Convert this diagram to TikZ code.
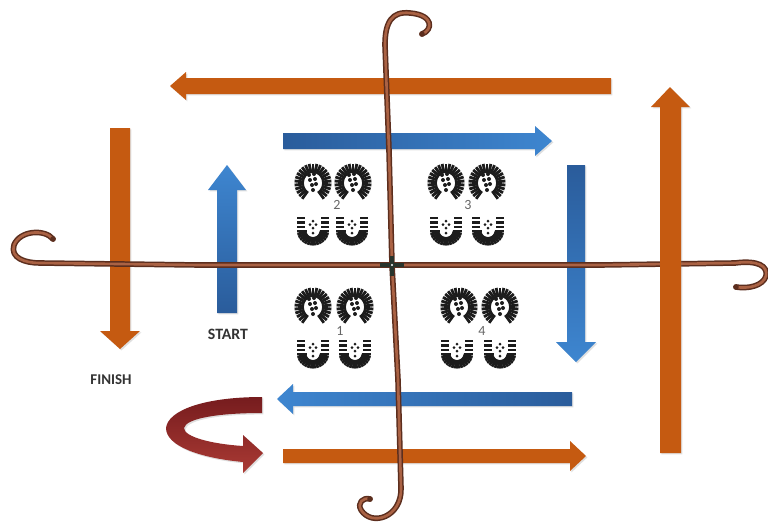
\documentclass[tikz,border=0pt]{standalone}
\usepackage{fontspec}
\setmainfont{Carlito}
\usetikzlibrary{shadows}

\definecolor{arrorange}{RGB}{197,90,17}
\definecolor{bluedark}{RGB}{42,92,155}
\definecolor{bluelight}{RGB}{62,134,208}
\definecolor{ribbondark}{RGB}{118,28,30}
\definecolor{ribbonlight}{RGB}{170,58,52}
\definecolor{canedark}{RGB}{92,46,30}
\definecolor{canelight}{RGB}{170,98,68}
\definecolor{knot}{RGB}{40,52,44}
\definecolor{solecol}{RGB}{28,28,28}

\tikzset{
  forefoot/.pic={
    \foreach \a in {126,138,...,414}
      \draw[sole] ({9*cos(\a)},{10*sin(\a)}) -- ({18.5*cos(\a)},{19.5*sin(\a)});
    \foreach \p in {(-4,-8),(1,-9),(-3,-3),(2,-4),(-1,2),(3,1),(0,7)}
      \fill[solecol] \p circle (2);
  },
  heel/.pic={
    \foreach \a in {0,12,...,180}
      \draw[sole] ({6.5*cos(\a)},{6*sin(\a)}) -- ({16*cos(\a)},{14.5*sin(\a)});
    \foreach \y in {-4,-8.5,-13}
      \draw[sole] (-16,\y) -- (-8,\y) (8,\y) -- (16,\y);
    \foreach \p in {(0,-10),(-3,-6.5),(3,-6.5),(0,-3),(0,2)}
      \fill[solecol] \p circle (1.5);
  }
}

\begin{document}
\begin{tikzpicture}[x=0.02cm,y=-0.02cm]
  \tikzstyle{every node}=[font=\bfseries\fontsize{9}{10}\selectfont, text=black!80]
  \tikzstyle{num}=[font=\fontsize{8}{9}\selectfont, text=black!60]
  \tikzstyle{sole}=[draw=solecol, line width=1.6pt]
  \tikzstyle{shadowed}=[drop shadow={opacity=0.25,shadow xshift=0.8pt,shadow yshift=-0.8pt}]
  \tikzstyle{cane}=[preaction={draw=canedark,line width=3.2pt,line cap=round,line join=round},
    draw=canelight, line width=1.5pt, line cap=round, line join=round]
  \useasboundingbox (0,0) rectangle (768,525);

 % outer loop (orange) and inner loop (blue)
 \fill[arrorange,shadowed] (611,78) -- (186,78) -- (186,72) -- (170,86) -- (186,100) -- (186,94) -- (611,94) -- cycle;
 \shade[left color=bluedark,right color=bluelight,shadowed] (283,133) -- (535,133) -- (535,126) -- (552,141) -- (535,156) -- (535,149) -- (283,149) -- cycle;
 \shade[top color=bluedark,bottom color=bluelight,shadowed] (567,165) -- (585,165) -- (585,342) -- (596,342) -- (576,362) -- (556,342) -- (567,342) -- cycle;
 \shade[top color=bluelight,bottom color=bluedark,shadowed] (217,313) -- (217,190) -- (208,190) -- (227,165) -- (246,190) -- (237,190) -- (237,313) -- cycle;
 \fill[arrorange,shadowed] (110,128) -- (130,128) -- (130,331) -- (140,331) -- (120,349) -- (100,331) -- (110,331) -- cycle;
 \shade[left color=bluelight,right color=bluedark,shadowed] (572,392) -- (293,392) -- (293,384) -- (277,399) -- (293,414) -- (293,406) -- (572,406) -- cycle;
 \fill[arrorange,shadowed] (283,449) -- (570,449) -- (570,441) -- (586,456) -- (570,471) -- (570,463) -- (283,463) -- cycle;

 % turn-around ribbon
 \shade[top color=ribbondark,bottom color=ribbonlight,shadowed] (262,397) .. controls (205,397) and (168,410) .. (166,428)
   .. controls (166,446) and (200,458) .. (243,462) -- (243,473) -- (263,453) -- (243,435) -- (243,446)
   .. controls (212,444) and (184,437) .. (184,428) .. controls (186,418) and (220,413) .. (262,413) -- cycle;

 % the two canes
 \draw[cane] (53,239) .. controls (45,229) and (20,230) .. (14,245) .. controls (10,258) and (25,263) .. (40,263)
   -- (200,265) -- (392,265) -- (600,265) -- (735,263)
   .. controls (758,260) and (768,266) .. (766,276) .. controls (763,286) and (748,289) .. (736,287);
 \draw[cane] (422,34) .. controls (433,30) and (434,15) .. (410,13) .. controls (392,11) and (385,22) .. (385,45)
   -- (389,150) -- (392,265) -- (398,380) -- (401,488)
   .. controls (402,517) and (372,527) .. (361,510) .. controls (357,503) and (363,497) .. (370,499);
 \foreach \p in {(53,239),(736,287),(422,34),(370,499)}
   \fill[canedark] \p circle (2.8);
 \draw[knot,line width=2.8pt] (380,265) -- (404,265) (392,256) -- (392,276);
 \fill[white] (392,265) circle (1.2);

 \fill[arrorange,shadowed] (660,453) -- (660,107) -- (651,107) -- (670,87) -- (690,107) -- (681,107) -- (681,453) -- cycle;

 % footprints
 \pic at (313,183) {forefoot}; \pic at (353,183) {forefoot};
 \pic at (313,231) {heel};     \pic at (352,231) {heel};
 \pic at (446,183) {forefoot}; \pic at (487,183) {forefoot};
 \pic at (446,231) {heel};     \pic at (488,231) {heel};
 \pic at (313,307) {forefoot}; \pic at (355,307) {forefoot};
 \pic at (313,354) {heel};     \pic at (355,354) {heel};
 \pic at (459,307) {forefoot}; \pic at (500,307) {forefoot};
 \pic at (457,354) {heel};     \pic at (500,354) {heel};

 \node[num] (n2) at (337,205) {2};
 \node[num] (n3) at (468,205) {3};
 \node[num] (n1) at (340,331) {1};
 \node[num] (n4) at (482,331) {4};

 \node (start) at (228,334) {START};
 \node[font=\bfseries\fontsize{8.5}{10}\selectfont] (finish) at (111,380) {FINISH};

\end{tikzpicture}
\end{document}
